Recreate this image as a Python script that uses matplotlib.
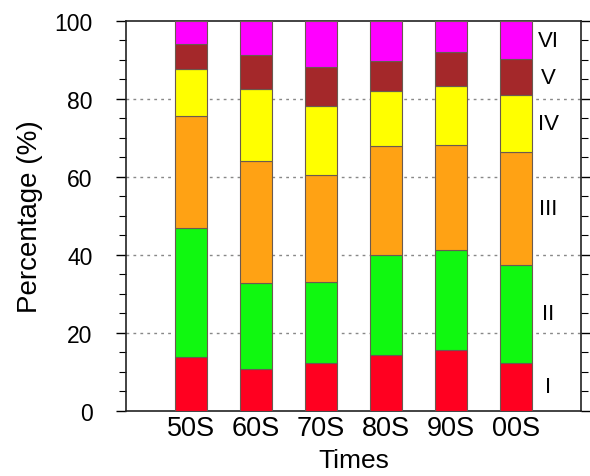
import matplotlib
matplotlib.use("Agg")
import matplotlib.pyplot as plt
import numpy as np

plt.rcParams["font.family"] = ["Liberation Sans", "DejaVu Sans"]

times = ["50S", "60S", "70S", "80S", "90S", "00S"]
classes = ["I", "II", "III", "IV", "V", "VI"]
colors = ["#ff0020", "#10f810", "#ffa214", "#ffff00", "#a4282a", "#ff00ff"]

# percentage of each class per period (bottom to top)
cls_I = [13.8, 10.7, 12.3, 14.3, 15.6, 12.4]
cls_II = [33.1, 22.0, 20.7, 25.8, 25.6, 25.1]
cls_III = [28.7, 31.5, 27.6, 27.9, 27.1, 29.0]
cls_IV = [12.1, 18.3, 17.5, 14.1, 15.0, 14.5]
cls_V = [6.4, 8.9, 10.0, 7.6, 8.8, 9.2]
cls_VI = [5.9, 8.6, 11.9, 10.3, 7.9, 9.8]
series = [cls_I, cls_II, cls_III, cls_IV, cls_V, cls_VI]

fig = plt.figure(figsize=(5.90, 4.77), dpi=100)
ax = fig.add_axes([0.2136, 0.1363, 0.7711, 0.8176])

x = np.arange(1, len(times) + 1)
bottom = np.zeros(len(times))
for vals, c in zip(series, colors):
    ax.bar(x, vals, 0.5, bottom=bottom, color=c, edgecolor="#6b5a50", linewidth=0.8, zorder=3)
    bottom += np.array(vals)

# class names beside the last bar, at the middle of each segment
last = np.cumsum([s[-1] for s in series])
mids = last - np.array([s[-1] for s in series]) / 2
for name, m in zip(classes, mids):
    ax.text(6.5, m, name, ha="center", va="center", fontsize=16)

for g in (20, 40, 60, 80):
    ax.axhline(g, color="#888888", lw=1.0, ls=(0, (2, 3)), zorder=1)

ax.set_xlim(0, 7)
ax.set_ylim(0, 100)
ax.set_xticks(x)
ax.set_xticklabels(times, fontsize=19.5)
ax.tick_params(axis="x", length=0, pad=3)
ax.set_yticks([0, 20, 40, 60, 80, 100])
ax.set_yticks(np.arange(0, 101, 5), minor=True)
ax.tick_params(axis="y", which="major", labelsize=16.5, length=7, width=1.0,
               direction="out", right=True, pad=17)
ax.tick_params(axis="y", which="minor", length=5, width=0.8, direction="out", right=True)
for s in ax.spines.values():
    s.set_linewidth(1.2)
    s.set_color("#222222")

ax.set_ylabel("Percentage (%)", fontsize=20, labelpad=8)
ax.set_xlabel("Times", fontsize=19, labelpad=5)

fig.savefig("out.png", dpi=100)
